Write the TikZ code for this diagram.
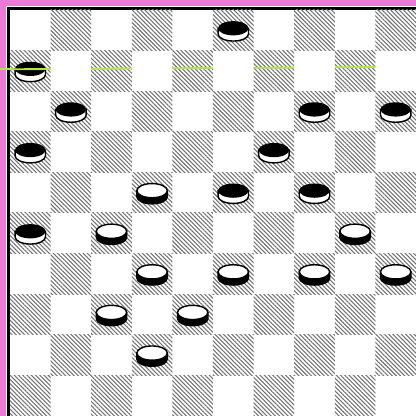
\documentclass[tikz,border=0pt]{standalone}
\usetikzlibrary{patterns.meta}
\definecolor{pagepink}{RGB}{236,122,214}
\definecolor{scanline}{RGB}{175,232,70}

\begin{document}
\begin{tikzpicture}[line width=1pt,
    darksq/.style={pattern={Lines[angle=-45,distance=2.1pt,line width=0.75pt]}, pattern color=black!55},
    blackman/.pic={
      \filldraw[fill=white] (-0.375,0.05) -- (-0.375,-0.09) arc (180:360:0.375 and 0.175) -- (0.375,0.05) -- cycle;
      \fill (0,0.05) ellipse (0.375 and 0.175);
    },
    whiteman/.pic={
      \filldraw[fill=black] (-0.375,0.05) -- (-0.375,-0.1) arc (180:360:0.375 and 0.175) -- (0.375,0.05) -- cycle;
      \filldraw[fill=white] (0,0.05) ellipse (0.375 and 0.175);
    }]
    \useasboundingbox (-0.246,0) rectangle (10,10.246);
    % margin and frame
    \fill[pagepink] (-0.246,0) rectangle (-0.098,10.246);
    \fill[pagepink] (-0.246,10.098) rectangle (10,10.246);
    \draw[line width=2.1pt] (-0.037,0) -- (-0.037,10.037) -- (10,10.037);
    % board
    \foreach \i in {0,...,9}
      \foreach \j in {0,...,9} {
        \pgfmathtruncatemacro\s{\i+\j}
        \ifodd\s\else
          \path[darksq] (\i,\j) rectangle ++(1,1);
        \fi
      }
    % men
    \foreach \c/\r in {5/0,0/1,1/2,7/2,9/2,0/3,6/3,5/4,7/4,0/5}
      \pic at (\c+0.5,9.5-\r) {blackman};
    \foreach \c/\r in {3/4,2/5,8/5,3/6,5/6,7/6,9/6,2/7,4/7,3/8}
      \pic at (\c+0.5,9.5-\r) {whiteman};
    % scan line
    \foreach \a in {0,2,4,6,8}
      \draw[scanline, line width=1.3pt] (\a,8.54+0.006*\a) -- (\a+1,8.546+0.006*\a);
    \draw[scanline, line width=1.3pt] (-0.246,8.54) -- (0,8.54);
\end{tikzpicture}
\end{document}
